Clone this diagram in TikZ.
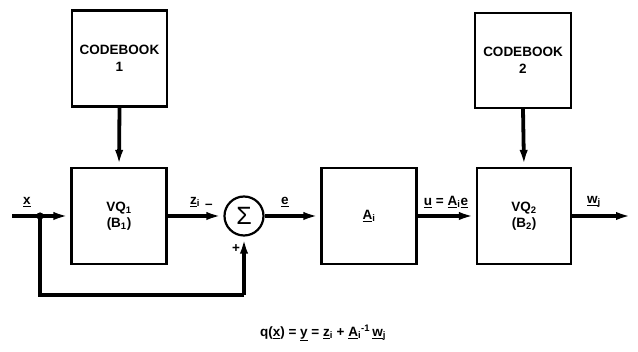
\documentclass[tikz,border=0pt]{standalone}
\usepackage{fontspec}
\setmainfont{Liberation Sans}
\usetikzlibrary{arrows.meta}
\begin{document}
\begin{tikzpicture}[x=1pt,y=-1pt,
  blk/.style={draw, line width=2.2pt, minimum width=95pt, minimum height=96pt, inner sep=0pt, align=center,
              font=\fontsize{13.5}{16.5}\selectfont\bfseries},
  sig/.style={line width=3.8pt, -{Latex[length=17pt,width=8pt]}},
  wire/.style={line width=3.8pt},
  lab/.style={font=\fontsize{13.5}{15}\selectfont\bfseries, inner sep=1pt}]
\useasboundingbox (0,0) rectangle (638,352);
\node[blk] (cb1) at (119.5,58.5) {CODEBOOK\\1};
\node[blk] (vq1) at (119,216) {VQ\textsubscript{1}\\(B\textsubscript{1})};
\node[draw, circle, line width=2.2pt, minimum size=39pt, inner sep=0pt, font=\fontsize{25}{25}\selectfont] (sum) at (244,216) {Σ};
\node[blk] (A) at (369,216) {\underline{A}\textsubscript{i}};
\node[blk, minimum width=94pt] (vq2) at (524,216) {VQ\textsubscript{2}\\(B\textsubscript{2})};
\node[blk, minimum width=96pt, minimum height=95pt] (cb2) at (523,60.5) {CODEBOOK\\2};
\coordinate (in) at (12,216);
\coordinate (out) at (633,216);
\coordinate (j) at (40,216);
\coordinate (fb) at (0,295);
\draw[sig] (in) -- (vq1.west);
\fill (j) circle (3.6pt);
\draw[wire] (j) |- (fb -| sum.south);
\draw[sig] (fb -| sum.south) -- (sum.south);
\draw[sig] (vq1.east) -- (sum.west);
\draw[sig] (sum.east) -- (A.west);
\draw[sig] (A.east) -- (vq2.west);
\draw[sig] (vq2.east) -- (out);
\draw[sig] (cb1.south) -- (vq1.north);
\draw[sig] (cb2.south) -- (vq2.north);
\node[lab] (lx) at (27,202) {\underline{x}};
\node[lab] (lz) at (195,202) {\underline{z}\textsubscript{i}};
\node[lab] (lminus) at (209,206) {–};
\node[lab] (lplus) at (236,249) {+};
\node[lab] (le) at (285,202) {\underline{e}};
\node[lab] (lu) at (446,202) {\underline{u} = \underline{A}\textsubscript{i}\underline{e}};
\node[lab] (lw) at (594,202) {\underline{w}\textsubscript{j}};
\node[lab] (formula) at (323,333) {q(\underline{x}) = \underline{y} = \underline{z}\textsubscript{i} + \underline{A}\textsubscript{i}\textsuperscript{-1}\,\underline{w}\textsubscript{j}};
\end{tikzpicture}
\end{document}
